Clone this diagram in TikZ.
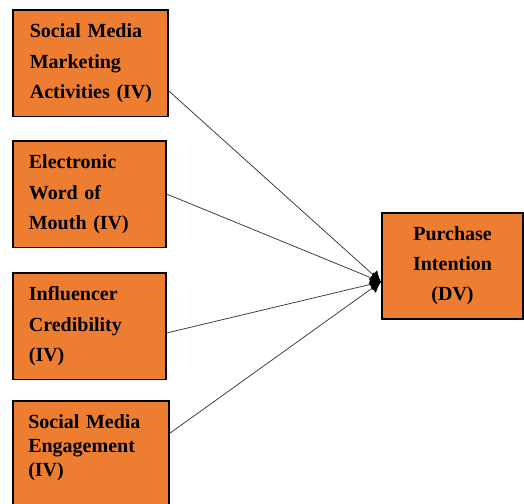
\documentclass[tikz,border=0pt]{standalone}
\usepackage{fontspec}
\setmainfont{Liberation Serif}
\usetikzlibrary{arrows.meta}
\definecolor{boxorange}{HTML}{ED7D31}

\begin{document}
\begin{tikzpicture}[x=0.75pt, y=-0.75pt,
	ivbox/.style={draw=black, line width=1.3pt, fill=boxorange, anchor=north west,
		minimum width=115pt, minimum height=80pt, text width=91pt, inner xsep=12pt,
		align=left, font=\fontsize{15}{23}\selectfont\bfseries},
	dvbox/.style={draw=black, line width=1.3pt, fill=boxorange, anchor=north west,
		minimum width=106pt, minimum height=79.5pt, text width=90pt,
		align=center, font=\fontsize{15}{22.5}\selectfont\bfseries},
	link/.style={draw=black!75, line width=0.6pt,
		-{Latex[length=8pt,width=9pt,black]}}]
	
	% Fix the page size
	\useasboundingbox (0,0) rectangle (524,503);
	
	% Independent variables
	\node[ivbox, minimum width=116.5pt] (smma) at (12,9) {Social Media\\Marketing\\Activities~(IV)};
	\node[ivbox] (ewom) at (12,140) {Electronic\\Word of\\Mouth (IV)};
	\node[ivbox] (ic) at (12,272) {Influencer\\Credibility\\(IV)};
	
	% Last box runs off the page, its text sits at the top
	\node[ivbox, minimum width=117pt, minimum height=90pt] (sme) at (12,400) {};
	\node[anchor=north west, inner sep=0pt, text width=91pt, align=left,
		font=\fontsize{15}{18}\selectfont\bfseries] (smetext) at (28,414)
		{Social Media\\Engagement\\(IV)};
	
	% Dependent variable
	\node[dvbox] (pi) at (381,212) {Purchase\\Intention\\(DV)};
	
	% All paths meet just left of the DV box
	\coordinate (hub) at ([xshift=0pt,yshift=-12pt]pi.west);
	\draw[link] ([yshift=-21pt]smma.east) -- (hub);
	\draw[link] (ewom.east) -- (hub);
	\draw[link] ([yshift=-5pt]ic.east) -- (hub);
	\draw[link] ([yshift=-25pt]sme.north east) -- (hub);
	
\end{tikzpicture}
\end{document}
